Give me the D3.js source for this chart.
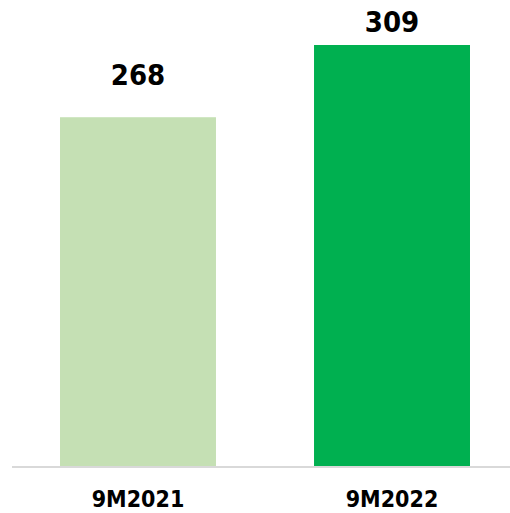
<!DOCTYPE html>
<html>
<head>
<meta charset="utf-8">
<script src="https://cdn.jsdelivr.net/npm/d3@7"></script>
<style>
  html, body { margin: 0; padding: 0; background: #fff; }
  svg { display: block; }
  text { font-family: "DejaVu Sans Condensed", "DejaVu Sans", sans-serif; font-stretch: condensed; font-weight: bold; fill: #000; }
</style>
</head>
<body>
<svg id="chart" width="510" height="513"></svg>
<script>
// Periods and their values
const periods = ["9M2021", "9M2022"];
const values = [268, 309];
const barColors = ["#c5e0b4", "#00b050"];

const svg = d3.select("#chart");
const baseY = 466;

const x = d3.scaleBand()
  .domain(periods)
  .range([12, 518])
  .paddingInner(0.386)
  .paddingOuter(0.189);

const y = d3.scaleLinear()
  .domain([70, 309])
  .range([baseY, 45]);

// Bars
svg.selectAll("rect.bar")
  .data(periods)
  .join("rect")
  .attr("class", "bar")
  .attr("x", d => x(d))
  .attr("width", x.bandwidth())
  .attr("y", (d, i) => y(values[i]))
  .attr("height", (d, i) => baseY - y(values[i]))
  .attr("fill", (d, i) => barColors[i]);

// Baseline
svg.append("line")
  .attr("x1", 12).attr("x2", 510)
  .attr("y1", baseY + 1).attr("y2", baseY + 1)
  .attr("stroke", "#d9d9d9")
  .attr("stroke-width", 2);

// Value labels above the bars
const labelGap = [32, 13];
svg.selectAll("text.value")
  .data(periods)
  .join("text")
  .attr("class", "value")
  .attr("x", d => x(d) + x.bandwidth() / 2)
  .attr("y", (d, i) => y(values[i]) - labelGap[i])
  .attr("text-anchor", "middle")
  .attr("font-size", 29)
  .text((d, i) => values[i]);

// Category labels
const xAxis = d3.axisBottom(x).tickSize(0).tickPadding(0);
const gx = svg.append("g")
  .attr("transform", `translate(0,${baseY})`)
  .call(xAxis);
gx.select(".domain").remove();
gx.selectAll("text")
  .attr("y", 41)
  .attr("dy", 0)
  .attr("font-size", 23)
  .style("font-family", "\"DejaVu Sans Condensed\", \"DejaVu Sans\", sans-serif")
  .style("font-weight", "bold")
  .attr("fill", "#000");
</script>
</body>
</html>
